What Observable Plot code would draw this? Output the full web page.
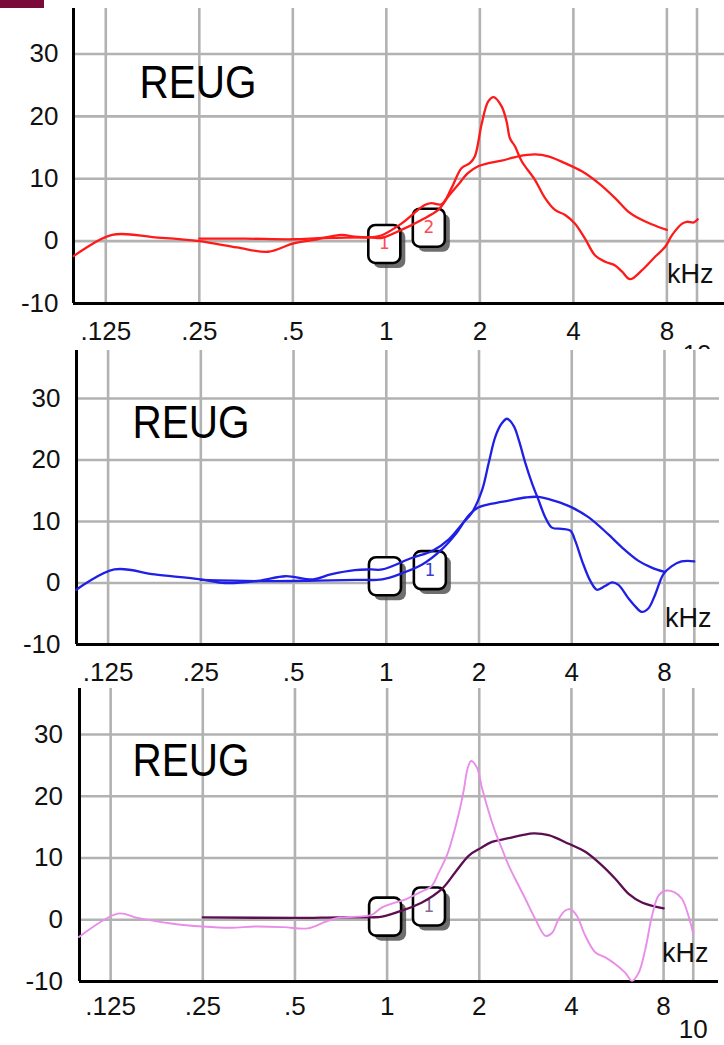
<!DOCTYPE html>
<html><head><meta charset="utf-8">
<script src="https://cdn.jsdelivr.net/npm/d3@7"></script>
<script src="https://cdn.jsdelivr.net/npm/@observablehq/plot@0.6"></script>
<style>
html,body{margin:0;padding:0;background:#fff;}
#wrap{position:relative;width:724px;height:1045px;overflow:hidden;background:#fff;}
.panel{position:absolute;left:0;background:#fff;overflow:hidden;}
.panel svg{display:block;}
#tab{position:absolute;left:0;top:0;width:44px;height:8px;background:#7a0a3a;}
</style></head><body><div id="wrap"></div>
<script>
// ---- shared axis data ----
const tickFreqs = [0.125, 0.25, 0.5, 1, 2, 4, 8];
const tickLabels = [".125", ".25", ".5", "1", "2", "4", "8"];
const extraFreqs = [10];
const extraLabels = ["10"];
const gridFreqs = [0.125, 0.25, 0.5, 1, 2, 4, 8, 10];
const dbTicks = [-10, 0, 10, 20, 30];
const dbLabels = ["-10", "0", "10", "20", "30"];
const gridDb = [0, 10, 20, 30];
const panelTitle = "REUG";
const unitLabel = "kHz";

// ---- panel 1 (red) ----
const p1Measured = [[0.0985,-2.4],[0.131,1.0],[0.18,0.6],[0.25,0.0],[0.33,-1.0],[0.417,-1.7],[0.5,-0.4],[0.6,0.3],[0.717,1.0],[0.79,0.7],[0.89,0.6],[0.963,0.9],[1.118,2.8],[1.329,5.8],[1.397,6.1],[1.505,5.9],[1.621,8.5],[1.745,11.7],[1.857,12.5],[1.928,13.6],[2.025,18.7],[2.128,22.4],[2.217,23.1],[2.35,21.6],[2.438,19.2],[2.499,16.5],[2.594,15.2],[2.727,12.8],[3.01,9.8],[3.243,6.9],[3.491,5.0],[3.763,4.2],[4.05,2.8],[4.36,0.4],[4.70,-2.3],[5.06,-3.3],[5.45,-3.9],[5.74,-4.9],[6.09,-6.1],[6.64,-4.7],[7.33,-2.5],[7.90,-0.9],[8.32,1.0],[8.96,2.8],[9.28,3.1],[9.77,3.0],[10.05,3.5]];
const p1Target = [[0.25,0.4],[0.35,0.4],[0.5,0.3],[0.63,0.5],[0.89,0.6],[0.963,0.5],[1.118,1.8],[1.297,3.4],[1.468,5.0],[1.58,7.1],[1.70,9.0],[1.83,10.9],[1.975,12.0],[2.13,12.5],[2.35,12.9],[2.66,13.6],[3.01,13.9],[3.32,13.6],[3.76,12.5],[4.26,11.2],[4.82,9.3],[5.45,6.9],[6.02,4.7],[6.47,3.7],[7.14,2.7],[8.0,1.8]];
const p1BoxFreq = [0.985, 1.37];
const p1BoxDb = [-0.45, 2.15];
const p1BoxLabel = ["1", "2"];

// ---- panel 2 (blue) ----
const p2Measured = [[0.0985,-1.1],[0.131,2.2],[0.177,1.4],[0.25,0.6],[0.30,0.0],[0.39,0.4],[0.47,1.1],[0.58,0.6],[0.66,1.4],[0.79,2.1],[0.89,2.2],[0.97,2.2],[1.214,4.1],[1.409,5.2],[1.596,7.1],[1.763,9.6],[1.899,11.5],[2.046,15.1],[2.150,19.5],[2.260,23.8],[2.375,26.0],[2.467,26.7],[2.594,25.5],[2.690,23.3],[2.828,19.5],[2.973,16.2],[3.125,13.4],[3.28,10.7],[3.45,9.0],[3.72,8.8],[3.96,8.5],[4.11,6.8],[4.32,3.6],[4.60,0.3],[4.83,-1.1],[5.13,-0.5],[5.40,0.1],[5.67,-0.3],[6.11,-2.5],[6.43,-3.8],[6.75,-4.7],[7.10,-4.1],[7.46,-1.9],[7.93,1.4],[8.43,2.7],[9.08,3.5],[9.54,3.6],[9.99,3.5]];
const p2Target = [[0.25,0.5],[0.4,0.3],[0.6,0.4],[0.8,0.5],[0.97,0.6],[1.127,1.6],[1.308,3.0],[1.518,5.5],[1.677,7.9],[1.853,11.0],[1.994,12.3],[2.205,12.9],[2.497,13.4],[2.828,13.9],[3.125,14.0],[3.54,13.3],[4.00,12.3],[4.53,10.7],[5.26,7.9],[5.82,5.8],[6.59,3.6],[7.27,2.5],[8.0,1.8]];
const p2BoxFreq = [0.99, 1.385];
const p2BoxDb = [1.1, 2.1];
const p2BoxLabel = ["", "1"];

// ---- panel 3 (pink / dark purple) ----
const p3Measured = [[0.0985,-2.8],[0.132,1.0],[0.153,0.3],[0.197,-0.6],[0.25,-1.1],[0.31,-1.3],[0.37,-1.1],[0.46,-1.2],[0.55,-1.4],[0.624,-0.4],[0.69,0.3],[0.8,0.5],[0.89,0.8],[0.963,2.0],[1.16,3.4],[1.3,4.6],[1.40,5.5],[1.47,7.5],[1.57,10.5],[1.64,13.5],[1.72,17.5],[1.78,21.0],[1.83,24.4],[1.88,25.7],[1.967,24.6],[2.042,21.3],[2.147,17.5],[2.257,14.2],[2.372,11.5],[2.494,8.8],[2.622,6.6],[2.828,3.4],[3.05,0.1],[3.29,-2.6],[3.46,-2.1],[3.63,0.1],[3.82,1.5],[3.97,1.7],[4.17,0.6],[4.44,-2.6],[4.79,-5.3],[5.16,-6.1],[5.57,-7.2],[6.00,-8.6],[6.31,-9.9],[6.63,-8.6],[6.97,-4.8],[7.33,0.6],[7.70,3.9],[8.10,4.7],[8.63,4.5],[9.18,3.4],[9.65,0.6],[10.0,-2.3]];
const p3Target = [[0.25,0.4],[0.5,0.3],[0.7,0.4],[0.89,0.4],[0.963,0.5],[1.12,1.5],[1.30,2.8],[1.51,5.0],[1.67,7.7],[1.85,10.4],[2.02,11.6],[2.2,12.6],[2.49,13.2],[2.76,13.7],[3.01,14.0],[3.37,13.7],[3.92,12.3],[4.44,11.0],[5.03,8.8],[5.57,6.6],[6.15,4.2],[6.8,2.8],[8.0,1.85]];
const p3BoxFreq = [0.985, 1.37];
const p3BoxDb = [0.5, 2.15];
const p3BoxLabel = ["", "1"];

const roundBox = {
  draw(ctx) {
    const w = 16, h = 19, r = 7;
    ctx.moveTo(-w + r, -h);
    ctx.lineTo(w - r, -h);
    ctx.arcTo(w, -h, w, -h + r, r);
    ctx.lineTo(w, h - r);
    ctx.arcTo(w, h, w - r, h, r);
    ctx.lineTo(-w + r, h);
    ctx.arcTo(-w, h, -w, h - r, r);
    ctx.lineTo(-w, -h + r);
    ctx.arcTo(-w, -h, -w + r, -h, r);
    ctx.closePath();
  }
};

const panels = [
  {top: 0, height: 350, mt: 8, mb: 47, ml: 73, mr: 0, xDomain: [0.0984, 12.26], yDomain: [-10, 37.3],
   measured: p1Measured, target: p1Target, mColor: "#ff1a1a", tColor: "#ff1a1a", mWidth: 2.3, tWidth: 2.3,
   boxF: p1BoxFreq, boxD: p1BoxDb, boxL: p1BoxLabel, boxColor: "#ff4a5a",
   yPad: 15, xDy: 28, tenDy: 51, titleDx: 66, titleDy: 74, unitDx: -11, unitDy: -29},
  {top: 349, height: 335, mt: 1, mb: 40, ml: 76, mr: 5, xDomain: [0.0987, 12.07], yDomain: [-10, 37.8],
   measured: p2Measured, target: p2Target, mColor: "#1f1fe6", tColor: "#1f1fe6", mWidth: 2.3, tWidth: 2.3,
   boxF: p2BoxFreq, boxD: p2BoxDb, boxL: p2BoxLabel, boxColor: "#3a3ad8",
   yPad: 16, xDy: 28, tenDy: 49, titleDx: 56, titleDy: 72, unitDx: -8, unitDy: -26},
  {top: 684, height: 361, mt: 4, mb: 64, ml: 79, mr: 6, xDomain: [0.0989, 12.09], yDomain: [-10, 37.45],
   measured: p3Measured, target: p3Target, mColor: "#e88ee8", tColor: "#5c0f50", mWidth: 1.9, tWidth: 2.3,
   boxF: p3BoxFreq, boxD: p3BoxDb, boxL: p3BoxLabel, boxColor: "#8a6a8a",
   yPad: 16.5, xDy: 25, tenDy: 48, titleDx: 53, titleDy: 72, unitDx: -10, unitDy: -28}
];

const wrap = document.getElementById("wrap");
const tab = document.createElement("div");
tab.id = "tab";
const sans = "'Liberation Sans', Arial, sans-serif";

for (const p of panels) {
  const boxes = p.boxF.map((f, i) => ({f, d: p.boxD[i], label: p.boxL[i]}));
  const xTicks = tickFreqs.map((f, i) => ({f, label: tickLabels[i]}));
  const xExtra = extraFreqs.map((f, i) => ({f, label: extraLabels[i]}));
  const yTicks = dbTicks.map((v, i) => ({v, label: dbLabels[i]}));
  const chart = Plot.plot({
    width: 724,
    height: p.height,
    marginTop: p.mt,
    marginBottom: p.mb,
    marginLeft: p.ml,
    marginRight: p.mr,
    x: {type: "log", domain: p.xDomain, axis: null},
    y: {domain: p.yDomain, axis: null},
    style: {fontFamily: sans, fontSize: "26px", background: "#fff", color: "#111", overflow: "visible"},
    marks: [
      Plot.ruleX(gridFreqs, {x: d => d, stroke: "#b2b2b2", strokeWidth: 2.6}),
      Plot.ruleY(gridDb, {y: d => d, stroke: "#b2b2b2", strokeWidth: 2.6}),
      Plot.ruleX([p.xDomain[0]], {x: d => d, stroke: "#000", strokeWidth: 3}),
      Plot.ruleY([dbTicks[0]], {y: d => d, stroke: "#000", strokeWidth: 3}),
      Plot.text(xTicks, {x: "f", text: "label", frameAnchor: "bottom", lineAnchor: "middle", dy: p.xDy, fontSize: 26, fill: "#111", fontFamily: sans}),
      Plot.text(xExtra, {x: "f", text: "label", frameAnchor: "bottom", lineAnchor: "middle", dy: p.tenDy, fontSize: 26, fill: "#111", fontFamily: sans}),
      Plot.text(yTicks, {y: "v", text: "label", frameAnchor: "left", textAnchor: "end", lineAnchor: "middle", dx: -p.yPad, fontSize: 26, fill: "#111", fontFamily: sans}),
      Plot.text([panelTitle], {frameAnchor: "top-left", textAnchor: "start", lineAnchor: "middle", dx: p.titleDx, dy: p.titleDy, fontSize: 47, fontFamily: sans, fill: "#000"}),
      Plot.text([unitLabel], {frameAnchor: "bottom-right", textAnchor: "end", lineAnchor: "middle", dx: p.unitDx, dy: p.unitDy, fontSize: 27, fill: "#111", fontFamily: sans}),
      Plot.dot(boxes, {x: "f", y: "d", symbol: roundBox, r: 10, fill: "#555", fillOpacity: 0.85, stroke: "none", dx: 5, dy: 5}),
      Plot.dot(boxes, {x: "f", y: "d", symbol: roundBox, r: 10, fill: "#fff", stroke: "#000", strokeWidth: 2.6}),
      Plot.text(boxes, {x: "f", y: "d", text: "label", fill: p.boxColor, fontSize: 17, fontFamily: "'DejaVu Sans', sans-serif"}),
      Plot.line(p.target, {x: d => d[0], y: d => d[1], stroke: p.tColor, strokeWidth: p.tWidth, curve: "catmull-rom"}),
      Plot.line(p.measured, {x: d => d[0], y: d => d[1], stroke: p.mColor, strokeWidth: p.mWidth, curve: "catmull-rom"})
    ]
  });
  // condense the panel title like the original's narrow face
  d3.select(chart).selectAll("text").filter(function () { return this.textContent === panelTitle; })
    .attr("textLength", 117).attr("lengthAdjust", "spacingAndGlyphs");
  const div = document.createElement("div");
  div.className = "panel";
  div.style.top = p.top + "px";
  div.style.height = p.height + "px";
  div.style.width = "724px";
  div.appendChild(chart);
  wrap.appendChild(div);
}
wrap.appendChild(tab);
</script>
</body></html>
